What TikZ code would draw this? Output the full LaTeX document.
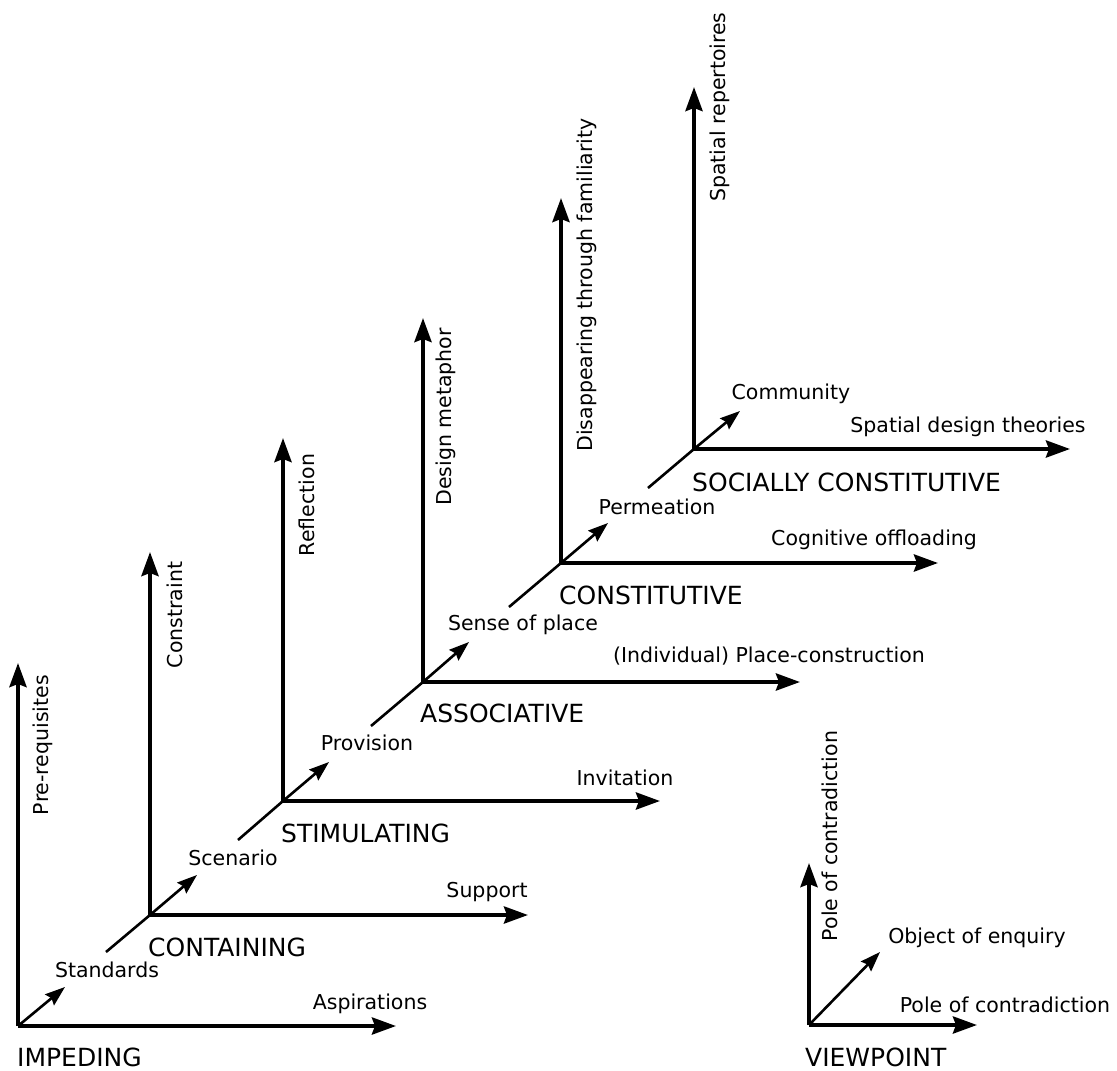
\documentclass[tikz,border=0pt]{standalone}
\usepackage{fontspec}
\setmainfont{DejaVu Sans}
\usetikzlibrary{arrows.meta}
\begin{document}
\begin{tikzpicture}[x=1pt,y=-1pt,
  axis/.style={line width=4pt,-{Stealth[length=24pt,width=17pt,inset=3pt]}},
  diag/.style={line width=2.6pt,-{Stealth[length=20pt,width=14pt,inset=2.5pt]}},
  link/.style={line width=2.6pt},
  lbl/.style={font=\fontsize{20.5}{24}\selectfont,inner sep=0pt},
  vlbl/.style={lbl,rotate=90},
  stage/.style={font=\fontsize{25}{28}\selectfont,inner sep=0pt,anchor=west}]
\useasboundingbox (0,0) rectangle (1117,1071);
% origins and tips
\coordinate (O1) at (18,1026);
\coordinate (V1) at (18,663);  \coordinate (H1) at (396,1026); \coordinate (D1) at (65,987);  \coordinate (L1) at (106,952);
\coordinate (O2) at (150,915);
\coordinate (V2) at (150,552); \coordinate (H2) at (528,915);  \coordinate (D2) at (197,875); \coordinate (L2) at (238,840);
\coordinate (O3) at (283,801);
\coordinate (V3) at (283,438); \coordinate (H3) at (660,801);  \coordinate (D3) at (329,762); \coordinate (L3) at (371,726);
\coordinate (O4) at (423,682);
\coordinate (V4) at (423,318); \coordinate (H4) at (800,682);  \coordinate (D4) at (469,642); \coordinate (L4) at (509,607);
\coordinate (O5) at (561,563);
\coordinate (V5) at (561,198); \coordinate (H5) at (938,563);  \coordinate (D5) at (608,523); \coordinate (L5) at (648,488);
\coordinate (O6) at (694,449);
\coordinate (V6) at (694,87);  \coordinate (H6) at (1070,449); \coordinate (D6) at (740,411);
\coordinate (O7) at (809,1025);
\coordinate (V7) at (809,863); \coordinate (H7) at (977,1025); \coordinate (D7) at (880,952);
% axes
\foreach \i in {1,...,7}{
  \draw[axis] (O\i) -- (V\i);
  \draw[axis] (O\i) -- (H\i);
  \draw[diag] (O\i) -- (D\i);
}
\foreach \i/\j in {1/2,2/3,3/4,4/5,5/6}{
  \draw[link] (L\i) -- (O\j);
}
% labels
\node[vlbl] (prereq) at (43,745) {Pre-requisites};
\node[lbl] (standards) at (107,970) {Standards};
\node[lbl] (aspirations) at (370,1004) {Aspirations};
\node[stage] (impeding) at (17,1057) {IMPEDING};
\node[vlbl] (constraint) at (175,615) {Constraint};
\node[lbl] (scenario) at (233,858) {Scenario};
\node[lbl] (support) at (487,892) {Support};
\node[stage] (containing) at (148,947) {CONTAINING};
\node[vlbl] (reflection) at (307,505) {Reflection};
\node[lbl] (provision) at (367,743) {Provision};
\node[lbl] (invitation) at (625,778) {Invitation};
\node[stage] (stimulating) at (281,833) {STIMULATING};
\node[vlbl] (metaphor) at (446,417) {Design metaphor};
\node[lbl] (sense) at (523,625) {Sense of place};
\node[lbl,anchor=west] (placecon) at (613,656) {(Individual) Place-construction};
\node[stage] (associative) at (420,713) {ASSOCIATIVE};
\node[vlbl] (disappear) at (587,285) {Disappearing through familiarity};
\node[lbl] (permeation) at (657,507) {Permeation};
\node[lbl,anchor=west] (cognitive) at (771,540) {Cognitive offloading};
\node[stage] (constitutive) at (559,595) {CONSTITUTIVE};
\node[vlbl] (repertoires) at (720,107) {Spatial repertoires};
\node[lbl] (community) at (791,394) {Community};
\node[lbl] (theories) at (968,427) {Spatial design theories};
\node[stage] (socially) at (692,482) {SOCIALLY CONSTITUTIVE};
\node[vlbl] (polev) at (830,836) {Pole of contradiction};
\node[lbl] (object) at (977,938) {Object of enquiry};
\node[lbl] (poleh) at (1005,1005) {Pole of contradiction};
\node[stage] (viewpoint) at (805,1057) {VIEWPOINT};
\end{tikzpicture}
\end{document}
